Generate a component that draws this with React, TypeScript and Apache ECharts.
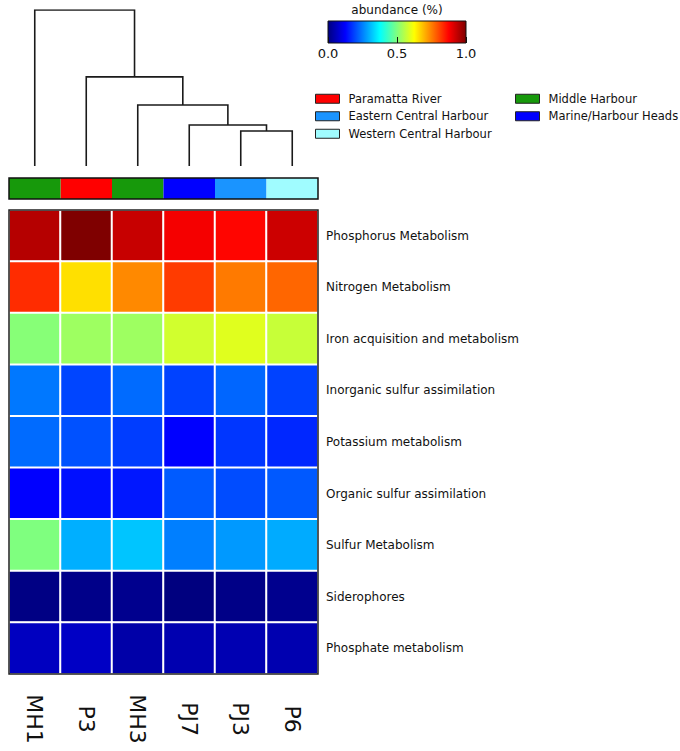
import React, { useEffect, useRef } from "react";
import * as echarts from "echarts";

const FONT = "DejaVu Sans";

// Samples (columns, in dendrogram leaf order)
const samples = ["MH1", "P3", "MH3", "PJ7", "PJ3", "P6"];
// Functions (rows, top to bottom)
const functions = [
  "Phosphorus Metabolism",
  "Nitrogen Metabolism",
  "Iron acquisition and metabolism",
  "Inorganic sulfur assimilation",
  "Potassium metabolism",
  "Organic sulfur assimilation",
  "Sulfur Metabolism",
  "Siderophores",
  "Phosphate metabolism",
];

// Relative abundance (row = function, column = sample)
const phosphorus = [0.947, 1.0, 0.93, 0.885, 0.87, 0.925];
const nitrogen = [0.832, 0.655, 0.74, 0.817, 0.755, 0.775];
const iron = [0.508, 0.53, 0.53, 0.58, 0.595, 0.57];
const inorganicSulfur = [0.243, 0.193, 0.23, 0.19, 0.225, 0.19];
const potassium = [0.23, 0.205, 0.185, 0.125, 0.178, 0.163];
const organicSulfur = [0.125, 0.14, 0.148, 0.215, 0.2, 0.213];
const sulfur = [0.5, 0.297, 0.318, 0.25, 0.275, 0.293];
const siderophores = [0.005, 0.01, 0.015, 0.0, 0.008, 0.015];
const phosphate = [0.063, 0.068, 0.04, 0.048, 0.05, 0.048];
const abundance = [
  phosphorus,
  nitrogen,
  iron,
  inorganicSulfur,
  potassium,
  organicSulfur,
  sulfur,
  siderophores,
  phosphate,
];

// Sample groups
const groupNames = [
  "Paramatta River",
  "Eastern Central Harbour",
  "Western Central Harbour",
  "Middle Harbour",
  "Marine/Harbour Heads",
];
const groupColors = ["#ff0000", "#1a94ff", "#a0fcff", "#17990b", "#0000ff"];
const sampleGroup = [
  "Middle Harbour",
  "Paramatta River",
  "Middle Harbour",
  "Marine/Harbour Heads",
  "Eastern Central Harbour",
  "Western Central Harbour",
];

// Dendrogram merges: [childA, childB, height]; ids 0..5 are leaves, 6.. are merges
const merges: [number, number, number][] = [
  [4, 5, 0.224],
  [3, 6, 0.263],
  [2, 7, 0.391],
  [1, 8, 0.571],
  [0, 9, 1.0],
];

// Colour bar ticks
const colorbarTicks = [0, 0.5, 1];

const jet = [
  "#00007f",
  "#0000ff",
  "#007fff",
  "#00ffff",
  "#7fff7f",
  "#ffff00",
  "#ff7f00",
  "#ff0000",
  "#7f0000",
];

export default function App() {
  const ref = useRef<HTMLDivElement>(null);

  useEffect(() => {
    if (!ref.current) return;
    const chart = echarts.init(ref.current, undefined, { renderer: "svg" });

    const heatData: [number, number, number][] = [];
    abundance.forEach((row, r) =>
      row.forEach((v, c) => heatData.push([c, r, v]))
    );

    // dendrogram link coordinates
    const nodeX: number[] = samples.map((_, i) => i + 0.5);
    const nodeH: number[] = samples.map(() => 0);
    const links: { coords: number[][] }[] = [];
    merges.forEach(([a, b, h]) => {
      links.push({
        coords: [
          [nodeX[a], nodeH[a]],
          [nodeX[a], h],
          [nodeX[b], h],
          [nodeX[b], nodeH[b]],
        ],
      });
      nodeX.push((nodeX[a] + nodeX[b]) / 2);
      nodeH.push(h);
    });

    const stripSeries = groupNames.map((g, gi) => ({
      type: "bar",
      name: g,
      xAxisIndex: 1,
      yAxisIndex: 1,
      barGap: "-100%",
      barCategoryGap: "0%",
      itemStyle: { color: groupColors[gi] },
      data: sampleGroup.map((s) => (s === g ? 1 : "-")),
      silent: true,
    }));

    const legendBase = {
      orient: "vertical",
      itemWidth: 24,
      itemHeight: 9,
      itemGap: 4,
      icon: "rect",
      padding: 0,
      selectedMode: false,
      top: 92,
      textStyle: {
        fontSize: 11.5,
        fontFamily: FONT,
        color: "#111",
        lineHeight: 13.5,
        padding: [0, 0, 0, 4],
      },
      itemStyle: { borderColor: "#222", borderWidth: 1 },
    };

    const option: any = {
      animation: false,
      backgroundColor: "#fff",
      textStyle: { fontFamily: FONT },
      grid: [
        {
          left: 9,
          top: 210,
          width: 309,
          height: 464,
          show: true,
          z: 5,
          backgroundColor: "transparent",
          borderColor: "#222",
          borderWidth: 1.5,
        },
        {
          left: 9,
          top: 178,
          width: 309,
          height: 21,
          show: true,
          z: 5,
          backgroundColor: "transparent",
          borderColor: "#111",
          borderWidth: 1.5,
        },
        { left: 9, top: 10, width: 309, height: 156 },
        {
          left: 328,
          top: 21,
          width: 138,
          height: 22,
          show: true,
          z: 6,
          backgroundColor: "transparent",
          borderColor: "#111",
          borderWidth: 1,
        },
      ],
      xAxis: [
        {
          type: "category",
          gridIndex: 0,
          data: samples,
          position: "bottom",
          axisLine: { show: false },
          axisTick: { show: false },
          axisLabel: {
            rotate: -90,
            margin: 45,
            align: "center",
            verticalAlign: "middle",
            fontSize: 22,
            fontFamily: FONT,
            color: "#111",
          },
        },
        {
          type: "category",
          gridIndex: 1,
          data: samples,
          show: false,
        },
        { type: "value", gridIndex: 2, min: 0, max: 6, show: false },
        {
          type: "value",
          gridIndex: 3,
          min: 0,
          max: 1,
          interval: 0.5,
          z: 7,
          axisLine: { show: false },
          splitLine: { show: false },
          axisTick: {
            show: true,
            inside: true,
            length: 6,
            lineStyle: { color: "#111", width: 1 },
            customValues: colorbarTicks,
          },
          axisLabel: {
            margin: 4,
            fontSize: 13,
            fontFamily: FONT,
            color: "#111",
            formatter: (v: number) => v.toFixed(1),
            customValues: colorbarTicks,
          },
        },
      ],
      yAxis: [
        {
          type: "category",
          gridIndex: 0,
          data: functions,
          inverse: true,
          position: "right",
          axisLine: { show: false },
          axisTick: { show: false },
          axisLabel: {
            margin: 8,
            fontSize: 12,
            fontFamily: FONT,
            color: "#111",
            padding: [7, 0, 0, 0],
          },
        },
        { type: "value", gridIndex: 1, min: 0, max: 1, show: false },
        { type: "value", gridIndex: 2, min: 0, max: 1, show: false },
        { type: "value", gridIndex: 3, min: 0, max: 1, show: false },
      ],
      visualMap: {
        type: "continuous",
        show: false,
        min: 0,
        max: 1,
        seriesIndex: 0,
        inRange: { color: jet },
      },
      legend: [
        { ...legendBase, left: 315, data: groupNames.slice(0, 3) },
        { ...legendBase, left: 515, data: groupNames.slice(3) },
      ],
      series: [
        {
          type: "heatmap",
          xAxisIndex: 0,
          yAxisIndex: 0,
          data: heatData,
          itemStyle: { borderColor: "#fff", borderWidth: 2 },
          silent: true,
        },
        ...stripSeries,
        {
          type: "lines",
          coordinateSystem: "cartesian2d",
          xAxisIndex: 2,
          yAxisIndex: 2,
          polyline: true,
          silent: true,
          lineStyle: { color: "#1a1a1a", width: 1.6, opacity: 1 },
          data: links,
        },
        {
          type: "custom",
          xAxisIndex: 3,
          yAxisIndex: 3,
          silent: true,
          data: [[0, 0]],
          renderItem: (_params: any, api: any) => {
            const p0 = api.coord([0, 0]);
            const p1 = api.coord([1, 1]);
            return {
              type: "rect",
              shape: {
                x: p0[0],
                y: p1[1],
                width: p1[0] - p0[0],
                height: p0[1] - p1[1],
              },
              style: {
                fill: new echarts.graphic.LinearGradient(
                  0,
                  0,
                  1,
                  0,
                  jet.map((c, i) => ({ offset: i / (jet.length - 1), color: c }))
                ),
              },
            };
          },
        },
      ],
      graphic: [
        {
          type: "text",
          x: 397,
          y: 10,
          style: {
            text: "abundance (%)",
            fontSize: 12,
            fontFamily: FONT,
            fill: "#111",
            align: "center",
            verticalAlign: "middle",
          },
        },
      ],
    };

    chart.setOption(option);
    return () => chart.dispose();
  }, []);

  return (
    <div
      ref={ref}
      style={{ position: "absolute", left: 0, top: 0, width: 680, height: 751 }}
    />
  );
}
